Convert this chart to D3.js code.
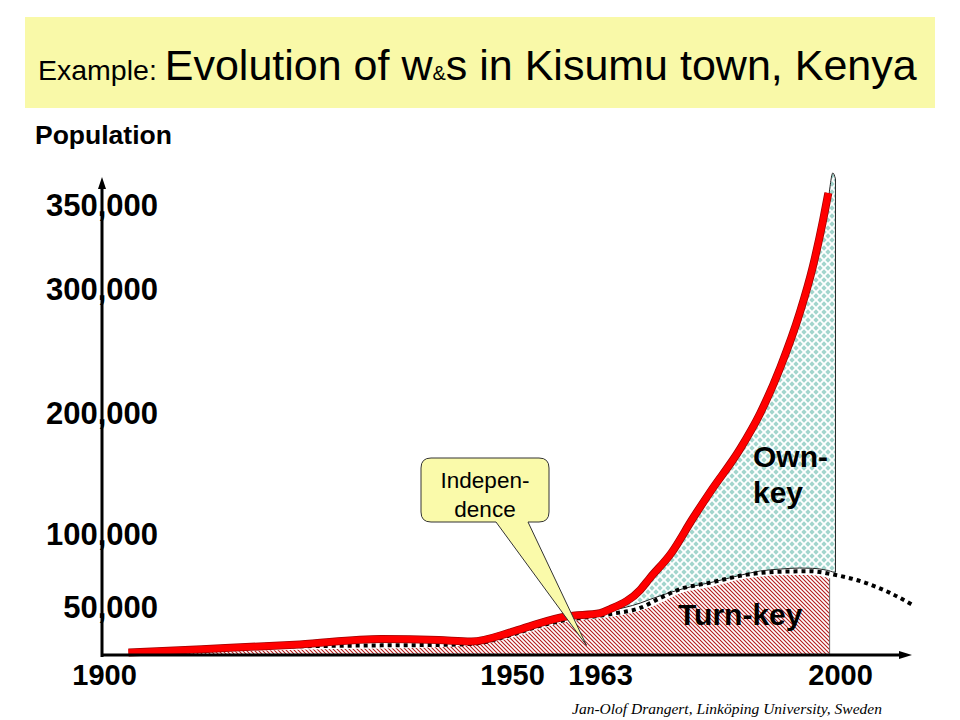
<!DOCTYPE html>
<html><head><meta charset="utf-8">
<script src="https://cdn.jsdelivr.net/npm/d3@7"></script>
<style>body{margin:0;background:#fff}svg{display:block}</style>
</head><body><svg id="c" width="960" height="720"></svg>
<script>
// ---- data ----
const xTickValues = [1900, 1950, 1963, 2000];
const yTickValues = [50000, 100000, 200000, 300000, 350000];

// total population (red line)
const popYears  = [1903, 1912, 1924, 1934, 1941, 1945, 1950, 1954, 1958, 1963, 1964.5, 1969.2, 1970.7, 1974, 1977.3, 1980, 1984.6, 1987.7, 1990.8, 1993.8, 1995.8, 1997.4, 1998.2];
const popValues = [1500, 5000, 10000, 15500, 14500, 13000, 23000, 32000, 39000, 42500, 46500, 61000, 69200, 86300, 112000, 134000, 169500, 199000, 236000, 280000, 312500, 340500, 356500];

// own-key supply (area between bottom and top)
const ownKeyYears  = [1963, 1964.5, 1969.2, 1970.7, 1974, 1977.3, 1980, 1984.6, 1987.7, 1990.8, 1993.8, 1995.8, 1997.4, 1998.2, 1998.9, 1999.3];
const ownKeyTop    = [42000, 45500, 59000, 66700, 83000, 108000, 130000, 165500, 195000, 232000, 275000, 307000, 335000, 353000, 368500, 365000];
const ownKeyBottom = [41500, 44500, 52000, 54500, 59500, 63500, 66000, 71000, 74000, 75300, 76000, 75800, 75000, 74300, 73300, 73000];

// turn-key supply (hatched area)
const turnKeyYears  = [1903, 1912, 1924, 1941, 1945, 1950, 1954, 1957, 1964.5, 1969.2, 1972.3, 1975.3, 1980, 1985.7, 1990.8, 1995.4, 1998, 1998.4];
const turnKeyValues = [0, 2000, 4500, 7000, 9000, 17000, 26000, 32000, 38500, 45000, 52000, 58500, 63000, 69000, 71000, 71200, 69500, 69000];

// dotted line (trend beyond 2000)
const dotYears  = [1923, 1934, 1941, 1945, 1950, 1954, 1957, 1964.5, 1969.2, 1972.3, 1975.3, 1980, 1985.7, 1990.8, 1995.4, 1999, 2003.5, 2007.7, 2011.3];
const dotValues = [8000, 9000, 9500, 10500, 20000, 29000, 34000, 41500, 48000, 55500, 61500, 66000, 71500, 73500, 73800, 71500, 66500, 59000, 50500];

// callout
const calloutLines = ["Indepen-", "dence"];
const calloutYear = 1961, calloutValue = 9000;

// ---- scales ----
const x = d3.scaleLinear().domain([1900, 1950, 1963, 2000]).range([104, 512, 600, 840]);
const y = d3.scaleLinear().domain([0, 50000, 100000, 200000, 300000, 350000]).range([654, 606, 533, 412, 288, 204]);

const svg = d3.select("#c");
const defs = svg.append("defs");
const SANS = "Liberation Sans, Arial, sans-serif";

// teal diamond pattern
const pd = defs.append("pattern").attr("id", "diam").attr("patternUnits", "userSpaceOnUse")
  .attr("width", 8).attr("height", 8);
pd.append("rect").attr("width", 8).attr("height", 8).attr("fill", "#fff");
[[4,4],[0,0],[8,0],[0,8],[8,8]].forEach(([cx,cy]) => {
  const r = 2.7;
  pd.append("polygon").attr("points", `${cx},${cy-r} ${cx+r},${cy} ${cx},${cy+r} ${cx-r},${cy}`).attr("fill", "#a2d5cd");
});
// red hatch pattern
const ph = defs.append("pattern").attr("id", "hatch").attr("patternUnits", "userSpaceOnUse")
  .attr("width", 4).attr("height", 4);
ph.append("rect").attr("width", 4).attr("height", 4).attr("fill", "#fff");
ph.append("path").attr("d", "M-1,-1 L5,5 M-1,3 L1,5 M3,-1 L5,1").attr("stroke", "#b31b1b").attr("stroke-width", 1.1);

// ---- title ----
svg.append("rect").attr("x", 25).attr("y", 17).attr("width", 910).attr("height", 91).attr("fill", "#f9f9a8");
const title = svg.append("text").attr("x", 38).attr("y", 80).attr("font-family", SANS).attr("fill", "#000");
title.append("tspan").attr("font-size", 28.5).text("Example");
title.append("tspan").attr("font-size", 28.5).text(": ");
title.append("tspan").attr("font-size", 43).text("Evolution of w");
title.append("tspan").attr("font-size", 20).text("&");
title.append("tspan").attr("font-size", 43).text("s in Kisumu town, Kenya");

svg.append("text").attr("x", 35).attr("y", 144).attr("font-family", SANS)
  .attr("font-weight", "bold").attr("font-size", 26.5).text("Population");

// ---- areas ----
const tk = turnKeyYears.map((yr, i) => ({year: yr, v: turnKeyValues[i]}));
svg.append("path").datum(tk)
  .attr("d", d3.area().x(d => x(d.year)).y0(y(0)).y1(d => y(d.v)).curve(d3.curveMonotoneX))
  .attr("fill", "url(#hatch)");
const tkLast = tk[tk.length - 1];
svg.append("line").attr("x1", x(tkLast.year)).attr("x2", x(tkLast.year)).attr("y1", y(0)).attr("y2", y(tkLast.v))
  .attr("stroke", "#666").attr("stroke-width", 1);

const ok = ownKeyYears.map((yr, i) => ({year: yr, top: ownKeyTop[i], bot: ownKeyBottom[i]}));
svg.append("path").datum(ok)
  .attr("d", d3.area().x(d => x(d.year)).y0(d => y(d.bot)).y1(d => y(d.top)).curve(d3.curveMonotoneX))
  .attr("fill", "url(#diam)").attr("stroke", "#222").attr("stroke-width", 1);

// dotted line
const dt = dotYears.map((yr, i) => ({year: yr, v: dotValues[i]}));
svg.append("path").datum(dt)
  .attr("d", d3.line().x(d => x(d.year)).y(d => y(d.v)).curve(d3.curveMonotoneX))
  .attr("fill", "none").attr("stroke", "#000").attr("stroke-width", 4).attr("stroke-dasharray", "4,4");

// red population line
const pop = popYears.map((yr, i) => ({year: yr, v: popValues[i]}));
const popLine = d3.line().x(d => x(d.year)).y(d => y(d.v)).curve(d3.curveMonotoneX);
svg.append("path").datum(pop).attr("d", popLine)
  .attr("fill", "none").attr("stroke", "#a00000").attr("stroke-width", 8).attr("stroke-linejoin", "round");
svg.append("path").datum(pop).attr("d", popLine)
  .attr("fill", "none").attr("stroke", "#ff0000").attr("stroke-width", 6.5).attr("stroke-linejoin", "round");

// ---- axes ----
const axX = x(1900) - 2;
svg.append("line").attr("x1", axX).attr("x2", axX).attr("y1", y(0) + 3).attr("y2", 186)
  .attr("stroke", "#000").attr("stroke-width", 3);
svg.append("polygon").attr("points", `${axX},177 ${axX-4},189 ${axX+4},189`).attr("fill", "#000");
svg.append("line").attr("x1", axX - 1).attr("x2", 902).attr("y1", y(0) + 1).attr("y2", y(0) + 1)
  .attr("stroke", "#000").attr("stroke-width", 3);
svg.append("polygon").attr("points", `912,${y(0)+1} 899,${y(0)-3} 899,${y(0)+5}`).attr("fill", "#000");

const gx = svg.append("g").attr("transform", `translate(0,${y(0)})`)
  .call(d3.axisBottom(x).tickValues(xTickValues).tickSize(0).tickPadding(10).tickFormat(d3.format("d")));
gx.select(".domain").remove();
gx.selectAll("text").attr("font-family", SANS).attr("font-weight", "bold")
  .attr("font-size", 29).attr("fill", "#000");

const gy = svg.append("g").attr("transform", `translate(${axX},0)`)
  .call(d3.axisLeft(y).tickValues(yTickValues).tickSize(0).tickPadding(-56).tickFormat(d3.format(",")));
gy.select(".domain").remove();
gy.selectAll("text").attr("font-family", SANS).attr("font-weight", "bold")
  .attr("font-size", 31).attr("fill", "#000").attr("dy", "0.36em");

// ---- labels ----
const lab = (t, xx, yy) => svg.append("text").attr("x", xx).attr("y", yy)
  .attr("font-family", SANS).attr("font-weight", "bold").attr("font-size", 30).text(t);
lab("Own-", 753, 467);
lab("key", 753, 503);
lab("Turn-key", 678, 625);

// ---- callout ----
const bx = 421, by = 458, bw = 128, bh = 64, r = 10;
const tx = x(calloutYear), ty = y(calloutValue);
const cp = `M${bx+r},${by} H${bx+bw-r} Q${bx+bw},${by} ${bx+bw},${by+r} V${by+bh-r} Q${bx+bw},${by+bh} ${bx+bw-r},${by+bh}` +
  ` H528 L${tx},${ty} L496,${by+bh} H${bx+r} Q${bx},${by+bh} ${bx},${by+bh-r} V${by+r} Q${bx},${by} ${bx+r},${by} Z`;
svg.append("path").attr("d", cp).attr("fill", "#fafaaa").attr("stroke", "#333").attr("stroke-width", 1);
calloutLines.forEach((t, i) => svg.append("text").attr("x", bx + bw / 2).attr("y", 488 + i * 29)
  .attr("text-anchor", "middle").attr("font-family", SANS).attr("font-size", 22.5).text(t));

// footer
svg.append("text").attr("x", 572).attr("y", 714).attr("font-family", "Liberation Serif, Times New Roman, serif")
  .attr("font-style", "italic").attr("font-size", 15.5).text("Jan-Olof Drangert, Linköping University, Sweden");
</script>
</body></html>
